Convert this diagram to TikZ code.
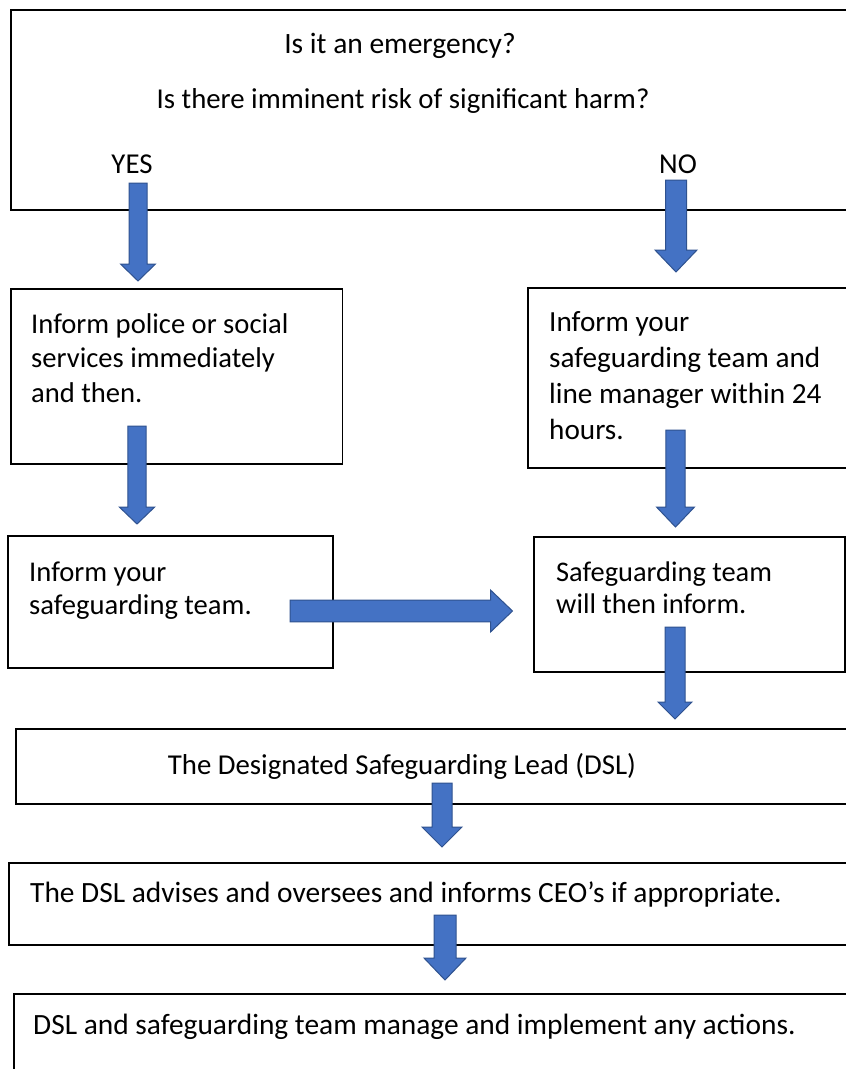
\documentclass[tikz,border=0pt]{standalone}
\usepackage{fontspec}
\setmainfont{Carlito}
\usetikzlibrary{calc}
\definecolor{arrowblue}{HTML}{4472C4}
\definecolor{arrowedge}{HTML}{2F528F}
\tikzset{
  box/.style={draw=black, line width=1.5pt, fill=white, rectangle, inner sep=0pt},
  txt/.style={inner sep=0pt, font=\fontsize{28.8}{34}\selectfont, align=left},
  barrow/.style={fill=arrowblue, draw=arrowedge, line width=1pt, line join=miter},
}
% vertical block arrow: start coord, tip coord, shaft half width, head half width, head length
\newcommand\varr[5]{%
  \draw[barrow] let \p1=(#1), \p2=(#2) in
    (\x1-#3pt,\y1) -- (\x1+#3pt,\y1) -- (\x1+#3pt,\y2+#5pt) -- (\x1+#4pt,\y2+#5pt)
    -- (\x1,\y2) -- (\x1-#4pt,\y2+#5pt) -- (\x1-#3pt,\y2+#5pt) -- cycle;}
% horizontal block arrow (to the right)
\newcommand\harr[5]{%
  \draw[barrow] let \p1=(#1), \p2=(#2) in
    (\x1,\y1+#3pt) -- (\x2-#5pt,\y1+#3pt) -- (\x2-#5pt,\y1+#4pt) -- (\x2,\y1)
    -- (\x2-#5pt,\y1-#4pt) -- (\x2-#5pt,\y1-#3pt) -- (\x1,\y1-#3pt) -- cycle;}
\begin{document}
\begin{tikzpicture}[x=1pt,y=-1pt]
\useasboundingbox (0,0) rectangle (846,1069);
\clip (0,0) rectangle (846,1069);
\fill[white] (0,0) rectangle (846,1069);

% boxes
\node[box, anchor=north west, minimum width=850pt, minimum height=200pt] (b1) at (10,9) {};
\node[box, anchor=north west, minimum width=331.5pt, minimum height=175pt] (b2) at (10,288) {};
\node[box, anchor=north west, minimum width=330pt, minimum height=180pt] (b3) at (527,287) {};
\node[box, anchor=north west, minimum width=325pt, minimum height=132pt] (b4) at (7,535) {};
\node[box, anchor=north west, minimum width=311pt, minimum height=135pt] (b5) at (533,536) {};
\node[box, anchor=north west, minimum width=840pt, minimum height=75pt] (b6) at (15,728) {};
\node[box, anchor=north west, minimum width=850pt, minimum height=82pt] (b7) at (8,862) {};
\node[box, anchor=north west, minimum width=850pt, minimum height=100pt] (b8) at (13,993) {};

% texts
\node[txt, anchor=base, font=\fontsize{29.5}{34}\selectfont] (t1a) at (400,53) {Is it an emergency?};
\node[txt, anchor=base] (t1b) at (403,108) {Is there imminent risk of significant harm?};
\node[txt, anchor=base] (yes) at (132,173) {YES};
\node[txt, anchor=base] (no) at (678,173) {NO};
\node[txt, anchor=north west, font=\fontsize{28.6}{34.5}\selectfont] (t2) at (31,313) {Inform police or social\\services immediately\\and then.};
\node[txt, anchor=north west, font=\fontsize{29.2}{36}\selectfont] (t3) at (549,311) {Inform your\\safeguarding team and\\line manager within 24\\hours.};
\node[txt, anchor=north west, font=\fontsize{28.6}{33}\selectfont] (t4) at (29,561.5) {Inform your\\safeguarding team.};
\node[txt, anchor=north west, font=\fontsize{28.4}{32.5}\selectfont] (t5) at (556,561.5) {Safeguarding team\\will then inform.};
\node[txt, anchor=base] (t6) at (402,774) {The Designated Safeguarding Lead (DSL)};
\node[txt, anchor=base west, font=\fontsize{29.4}{34}\selectfont] (t7) at (30,902) {The DSL advises and oversees and informs CEO’s if appropriate.};
\node[txt, anchor=base west, font=\fontsize{29.4}{34}\selectfont] (t8) at (33,1034) {DSL and safeguarding team manage and implement any actions.};

% arrow end points
\coordinate (a1s) at (138,183);  \coordinate (a1e) at (138,281);
\coordinate (a2s) at (676,180);  \coordinate (a2e) at (676,272);
\coordinate (a3s) at (137,426);  \coordinate (a3e) at (137,524);
\coordinate (a4s) at (675.5,430); \coordinate (a4e) at (675.5,527);
\coordinate (a5s) at (675,627);  \coordinate (a5e) at (675,719);
\coordinate (a6s) at (442,783);  \coordinate (a6e) at (442,847);
\coordinate (a7s) at (445,915);  \coordinate (a7e) at (445,980);
\coordinate (hs) at (290,611);   \coordinate (he) at (512.5,611);

\varr{a1s}{a1e}{9}{17.5}{17}
\varr{a2s}{a2e}{10.5}{21}{22}
\varr{a3s}{a3e}{9.2}{17.7}{17}
\varr{a4s}{a4e}{9.7}{19}{20}
\varr{a5s}{a5e}{10}{17}{17}
\varr{a6s}{a6e}{10}{20}{20}
\varr{a7s}{a7e}{11}{21}{22}
\harr{hs}{he}{10.8}{21}{22}
\end{tikzpicture}
\end{document}
